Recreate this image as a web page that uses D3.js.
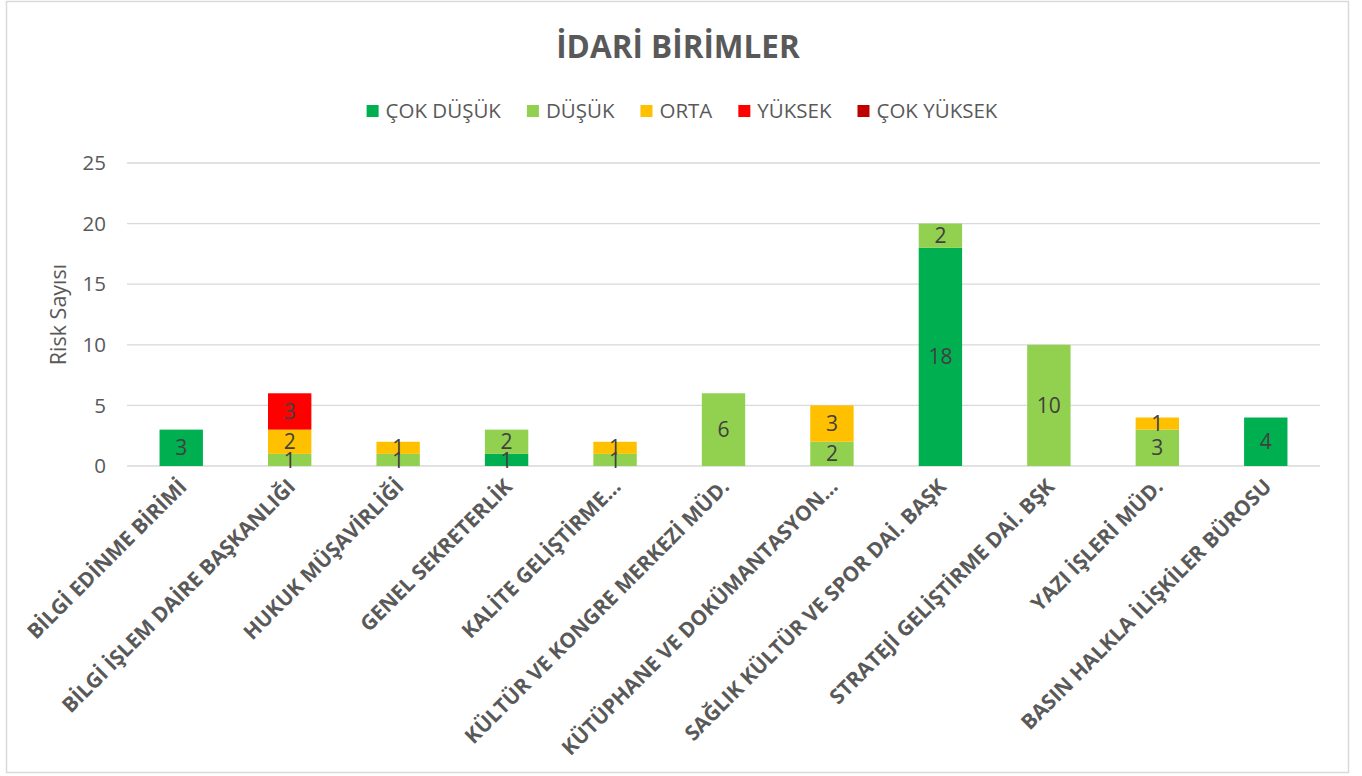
<!DOCTYPE html>
<html lang="tr">
<head>
<meta charset="UTF-8">
<title>İdari Birimler</title>
<script src="https://d3js.org/d3.v7.min.js"></script>
<style>
  body { margin: 0; background: #fff; }
  text { font-family: "Open Sans", Lato, sans-serif; }
</style>
</head>
<body>
<div id="chart"></div>
<script>
// data
const categories = [
  "BİLGİ EDİNME BİRİMİ",
  "BİLGİ İŞLEM DAİRE BAŞKANLIĞI",
  "HUKUK MÜŞAVİRLİĞİ",
  "GENEL SEKRETERLİK",
  "KALİTE GELİŞTİRME…",
  "KÜLTÜR VE KONGRE MERKEZİ MÜD.",
  "KÜTÜPHANE VE DOKÜMANTASYON…",
  "SAĞLIK KÜLTÜR VE SPOR DAİ. BAŞK",
  "STRATEJİ GELİŞTİRME DAİ. BŞK",
  "YAZI İŞLERİ MÜD.",
  "BASIN HALKLA İLİŞKİLER BÜROSU"
];
const seriesNames = ["ÇOK DÜŞÜK", "DÜŞÜK", "ORTA", "YÜKSEK", "ÇOK YÜKSEK"];
const seriesColors = ["#00b050", "#92d050", "#ffc000", "#ff0000", "#c00000"];
const cokDusuk  = [3, 0, 0, 1, 0, 0, 0, 18, 0, 0, 4];
const dusuk     = [0, 1, 1, 2, 1, 6, 2, 2, 10, 3, 0];
const orta      = [0, 2, 1, 0, 1, 0, 3, 0, 0, 1, 0];
const yuksek    = [0, 3, 0, 0, 0, 0, 0, 0, 0, 0, 0];
const cokYuksek = [0, 0, 0, 0, 0, 0, 0, 0, 0, 0, 0];
const yTicks = [0, 5, 10, 15, 20, 25];

const width = 1362, height = 776;
const margin = { top: 163, right: 42, bottom: 310, left: 127 };

const rows = categories.map((c, i) => ({
  cat: c,
  "ÇOK DÜŞÜK": cokDusuk[i],
  "DÜŞÜK": dusuk[i],
  "ORTA": orta[i],
  "YÜKSEK": yuksek[i],
  "ÇOK YÜKSEK": cokYuksek[i]
}));
const stacked = d3.stack().keys(seriesNames)(rows);

const svg = d3.select("#chart").append("svg")
  .attr("width", width).attr("height", height);

// outer frame
svg.append("rect")
  .attr("x", 6.5).attr("y", 1.5)
  .attr("width", 1342).attr("height", 771)
  .attr("fill", "#fff").attr("stroke", "#d9d9d9").attr("stroke-width", 1.5);

const x = d3.scaleBand().domain(categories)
  .range([margin.left, width - margin.right]).paddingInner(0.6).paddingOuter(0.3);
const y = d3.scaleLinear().domain([0, 25]).range([height - margin.bottom, margin.top]);

// gridlines
svg.append("g").selectAll("line").data(yTicks).join("line")
  .attr("x1", margin.left).attr("x2", width - margin.right)
  .attr("y1", d => y(d)).attr("y2", d => y(d))
  .attr("stroke", "#d9d9d9").attr("stroke-width", 1.3);

// y tick labels
svg.append("g").selectAll("text").data(yTicks).join("text")
  .attr("x", 106).attr("y", d => y(d)).attr("dy", "0.35em")
  .attr("text-anchor", "end").attr("font-size", 20.5).attr("fill", "#595959")
  .text(d => d);

// y axis title
svg.append("text")
  .attr("transform", `translate(66,${(y(0) + y(25)) / 2}) rotate(-90)`)
  .attr("text-anchor", "middle").attr("font-size", 21.5).attr("fill", "#595959")
  .text("Risk Sayısı");

// bars
const layers = svg.append("g").selectAll("g").data(stacked).join("g")
  .attr("fill", (d, i) => seriesColors[i]);
layers.selectAll("rect").data(d => d.filter(s => s[1] - s[0] > 0)).join("rect")
  .attr("x", d => x(d.data.cat))
  .attr("width", x.bandwidth())
  .attr("y", d => y(d[1]))
  .attr("height", d => y(d[0]) - y(d[1]));

// data labels
stacked.forEach(layer => {
  svg.append("g").selectAll("text").data(layer.filter(s => s[1] - s[0] > 0)).join("text")
    .attr("x", d => x(d.data.cat) + x.bandwidth() / 2)
    .attr("y", d => (y(d[0]) + y(d[1])) / 2)
    .attr("dy", "0.36em")
    .attr("text-anchor", "middle").attr("font-size", 21).attr("fill", "#404040")
    .text(d => d[1] - d[0]);
});

// category labels
svg.append("g").selectAll("text").data(categories).join("text")
  .attr("transform", d => `translate(${x(d) + x.bandwidth() / 2 + 7},${y(0) + 22}) rotate(-45)`)
  .attr("text-anchor", "end").attr("font-size", 20.8).attr("font-weight", "bold")
  .attr("fill", "#595959")
  .text(d => d);

// title
svg.append("text")
  .attr("x", 678).attr("y", 58).attr("text-anchor", "middle")
  .attr("font-size", 31.5).attr("font-weight", "bold").attr("fill", "#595959")
  .text("İDARİ BİRİMLER");

// legend
const legend = svg.append("g");
let lx = 0;
seriesNames.forEach((name, i) => {
  const g = legend.append("g").attr("transform", `translate(${lx},0)`);
  g.append("rect").attr("x", 0).attr("y", -6).attr("width", 12).attr("height", 12)
    .attr("fill", seriesColors[i]);
  const t = g.append("text").attr("x", 19).attr("y", 0).attr("dy", "0.35em")
    .attr("font-size", 20.5).attr("fill", "#595959").text(name);
  lx += 19 + t.node().getComputedTextLength() + 26;
});
const lw = lx - 26;
legend.attr("transform", `translate(${682 - lw / 2},111)`);
</script>
</body>
</html>
